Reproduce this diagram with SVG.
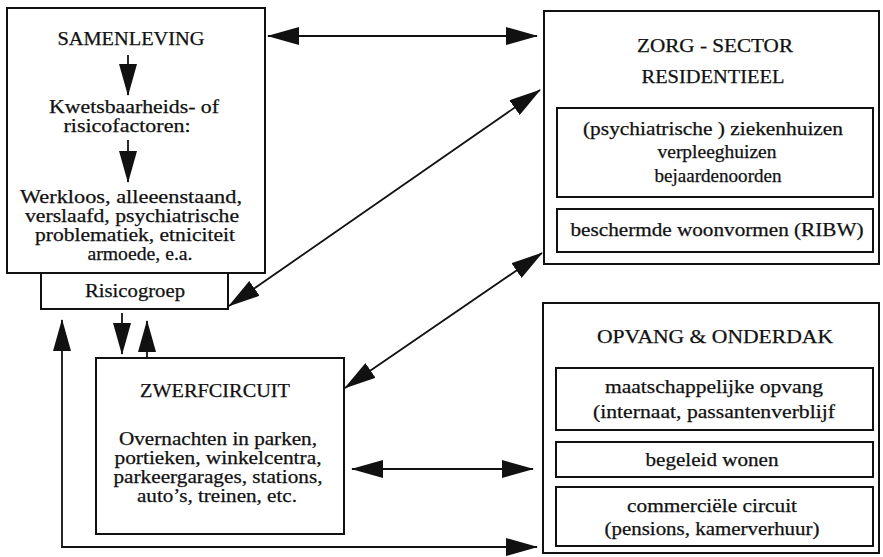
<svg xmlns="http://www.w3.org/2000/svg" width="883" height="557" viewBox="0 0 883 557">
<style>
.box{fill:none;stroke:#111;stroke-width:2}
.t{font-family:"Liberation Serif","Times New Roman",serif;font-size:18px;fill:#111;stroke:#111;stroke-width:0.25;text-anchor:middle}
.c{stroke:#111;stroke-width:1.8;fill:none}
</style>
<defs>
<marker id="ah" markerUnits="userSpaceOnUse" markerWidth="32" markerHeight="18" refX="31" refY="9" orient="auto-start-reverse" viewBox="0 0 32 18">
<path d="M0,0 L32,9 L0,18 Z" fill="#111"/>
</marker>
</defs>
<rect width="883" height="557" fill="#fff"/>
<g id="samenleving">
<rect class="box" x="7" y="8" width="258" height="265"/>
<text class="t" x="131" y="45" textLength="147" lengthAdjust="spacingAndGlyphs">SAMENLEVING</text>
<text class="t" x="134" y="113" textLength="170" lengthAdjust="spacingAndGlyphs">Kwetsbaarheids- of</text>
<text class="t" x="127" y="132" textLength="127" lengthAdjust="spacingAndGlyphs">risicofactoren:</text>
<text class="t" x="131" y="203" textLength="222" lengthAdjust="spacingAndGlyphs">Werkloos, alleeenstaand,</text>
<text class="t" x="132" y="222" textLength="214" lengthAdjust="spacingAndGlyphs">verslaafd, psychiatrische</text>
<text class="t" x="135" y="241" textLength="200" lengthAdjust="spacingAndGlyphs">problematiek, etniciteit</text>
<text class="t" x="140" y="260" textLength="105" lengthAdjust="spacingAndGlyphs">armoede, e.a.</text>
<line class="c" x1="128" y1="55" x2="128" y2="95" marker-end="url(#ah)"/>
<line class="c" x1="128" y1="140" x2="128" y2="182" marker-end="url(#ah)"/>
</g>
<g id="risicogroep">
<rect class="box" x="41" y="273" width="187" height="36"/>
<text class="t" x="135" y="297" textLength="100" lengthAdjust="spacingAndGlyphs">Risicogroep</text>
</g>
<g id="zwerfcircuit">
<rect class="box" x="96" y="358" width="248" height="176"/>
<text class="t" x="215" y="397" textLength="150" lengthAdjust="spacingAndGlyphs">ZWERFCIRCUIT</text>
<text class="t" x="218" y="445" textLength="198" lengthAdjust="spacingAndGlyphs">Overnachten in parken,</text>
<text class="t" x="218" y="464" textLength="207" lengthAdjust="spacingAndGlyphs">portieken, winkelcentra,</text>
<text class="t" x="218" y="483" textLength="209" lengthAdjust="spacingAndGlyphs">parkeergarages, stations,</text>
<text class="t" x="217" y="502" textLength="160" lengthAdjust="spacingAndGlyphs">auto’s, treinen, etc.</text>
</g>
<g id="zorg">
<rect class="box" x="544" y="11" width="335" height="253"/>
<text class="t" x="715" y="52" textLength="156" lengthAdjust="spacingAndGlyphs">ZORG - SECTOR</text>
<text class="t" x="713" y="83" textLength="143" lengthAdjust="spacingAndGlyphs">RESIDENTIEEL</text>
<rect class="box" x="557" y="108" width="316" height="89"/>
<text class="t" x="713" y="135" textLength="260" lengthAdjust="spacingAndGlyphs">(psychiatrische ) ziekenhuizen</text>
<text class="t" x="717" y="158" textLength="119" lengthAdjust="spacingAndGlyphs">verpleeghuizen</text>
<text class="t" x="718" y="182" textLength="127" lengthAdjust="spacingAndGlyphs">bejaardenoorden</text>
<rect class="box" x="557" y="209" width="316" height="43"/>
<text class="t" x="717" y="236" textLength="293" lengthAdjust="spacingAndGlyphs">beschermde woonvormen (RIBW)</text>
</g>
<g id="opvang">
<rect class="box" x="543" y="303" width="336" height="250"/>
<text class="t" x="715" y="343" textLength="236" lengthAdjust="spacingAndGlyphs">OPVANG &amp; ONDERDAK</text>
<rect class="box" x="556" y="368" width="317" height="62"/>
<text class="t" x="714" y="393" textLength="218" lengthAdjust="spacingAndGlyphs">maatschappelijke opvang</text>
<text class="t" x="714" y="418" textLength="242" lengthAdjust="spacingAndGlyphs">(internaat, passantenverblijf</text>
<rect class="box" x="556" y="442" width="317" height="35"/>
<text class="t" x="712" y="466" textLength="133" lengthAdjust="spacingAndGlyphs">begeleid wonen</text>
<rect class="box" x="556" y="487" width="317" height="59"/>
<text class="t" x="712" y="512" textLength="170" lengthAdjust="spacingAndGlyphs">commerciële circuit</text>
<text class="t" x="712" y="535" textLength="215" lengthAdjust="spacingAndGlyphs">(pensions, kamerverhuur)</text>
</g>
<g id="connectors">
<line class="c" x1="268" y1="36" x2="537" y2="36" marker-start="url(#ah)" marker-end="url(#ah)"/>
<line class="c" x1="540" y1="90" x2="229" y2="306" marker-start="url(#ah)" marker-end="url(#ah)"/>
<line class="c" x1="542" y1="253" x2="345" y2="388" marker-start="url(#ah)" marker-end="url(#ah)"/>
<line class="c" x1="352" y1="469" x2="533" y2="469" marker-start="url(#ah)" marker-end="url(#ah)"/>
<line class="c" x1="122" y1="313" x2="122" y2="354" marker-end="url(#ah)"/>
<line class="c" x1="147" y1="357" x2="147" y2="321" marker-end="url(#ah)"/>
<polyline class="c" points="537,547 62,547 62,320" marker-start="url(#ah)" marker-end="url(#ah)"/>
</g>
</svg>
